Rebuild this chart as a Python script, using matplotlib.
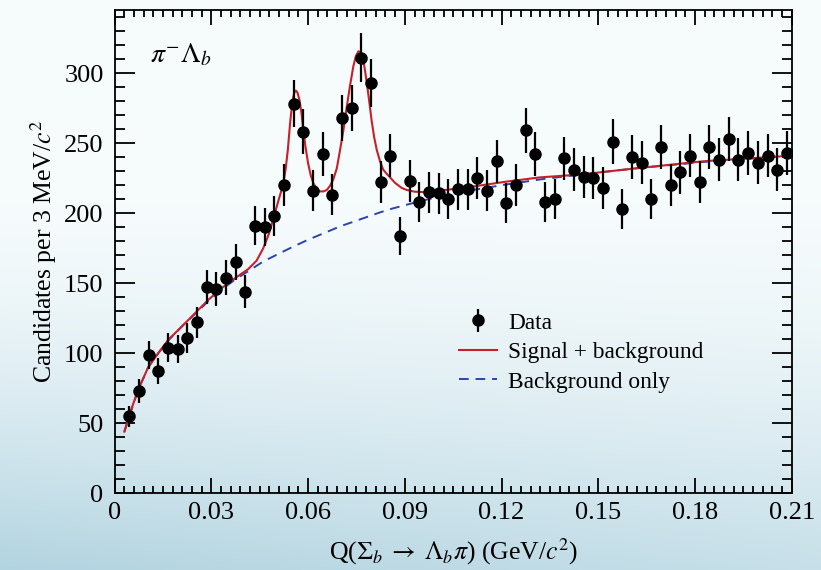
import numpy as np
import matplotlib
matplotlib.use("Agg")
from matplotlib import pyplot as plt

# Sigma_b -> Lambda_b pi candidates, pi^- Lambda_b sample, 3 MeV bins
q_bins = np.arange(0.0045, 0.21, 0.003)
counts = [55, 73, 99, 87, 104, 103, 111, 122, 147, 146,
          154, 165, 144, 191, 190, 198, 220, 278, 258, 216,
          242, 213, 268, 275, 311, 293, 222, 241, 184, 223,
          208, 215, 214, 210, 217, 217, 225, 216, 237, 207,
          220, 259, 242, 208, 210, 239, 231, 226, 225, 218,
          251, 203, 240, 236, 210, 247, 220, 229, 241, 222,
          247, 238, 253, 238, 243, 236, 241, 231, 243]
errors = np.sqrt(counts)

# fitted signal + background curve
fit_q = [0.0030, 0.0047, 0.0073, 0.0104, 0.0135, 0.0166, 0.0208, 0.0249, 0.0290, 0.0332,
         0.0373, 0.0414, 0.0440, 0.0461, 0.0478, 0.0492, 0.0508, 0.0515, 0.0523, 0.0530,
         0.0537, 0.0544, 0.0549, 0.0554, 0.0558, 0.0562, 0.0567, 0.0573, 0.0579, 0.0585,
         0.0592, 0.0600, 0.0608, 0.0616, 0.0626, 0.0637, 0.0648, 0.0658, 0.0668, 0.0678,
         0.0689, 0.0699, 0.0710, 0.0720, 0.0730, 0.0740, 0.0748, 0.0756, 0.0762, 0.0769,
         0.0775, 0.0782, 0.0790, 0.0797, 0.0805, 0.0813, 0.0823, 0.0833, 0.0844, 0.0854,
         0.0870, 0.0890, 0.0906, 0.0930, 0.0957, 0.1009, 0.1112, 0.1216, 0.1319, 0.1443,
         0.1619, 0.1826, 0.2100]
fit_val = [44, 57, 74, 90, 100, 109.5, 119, 128.5, 138, 146.5,
           153.5, 160, 166, 175, 185, 196, 209, 214.5, 221.5, 231,
           245, 264, 275, 283, 286.5, 287.5, 286, 281, 272, 259.5,
           247, 235.5, 227, 221.5, 217.5, 215.5, 215.5, 216.5, 219.5, 224,
           232, 245, 260, 276, 291, 304.5, 312, 315.5, 315, 312,
           304, 293, 279, 266, 254, 245, 237, 231, 228, 225.5,
           221.5, 218, 216.5, 215.3, 215, 216, 219, 222.5, 225.5, 227.5,
           232, 237, 241]

# background-only component
bkg_q = [0.0030, 0.0073, 0.0104, 0.0135, 0.0166, 0.0208, 0.0249, 0.0290, 0.0332, 0.0373,
         0.0414, 0.0461, 0.0544, 0.0600, 0.0668, 0.0699, 0.0823, 0.0854, 0.0947, 0.1040,
         0.1112, 0.1216, 0.1319, 0.1443, 0.1619, 0.1826, 0.2100]
bkg_val = [44, 74, 90, 100, 109, 119, 128, 137, 145.5, 152.5,
           158.5, 165.5, 175, 181, 187.5, 190.5, 200.5, 202.8, 208.5, 213.5,
           216.5, 220.5, 224, 227.5, 232, 236.5, 241]

plt.rcParams['font.family'] = ['Liberation Serif', 'DejaVu Serif']
plt.rcParams['mathtext.fontset'] = 'stix'

fig = plt.figure(figsize=(8.21, 5.70), dpi=100)

# pale blue backdrop behind everything
bg = fig.add_axes([0, 0, 1, 1], zorder=-10)
yy, xx = np.mgrid[0:1:200j, 0:1:300j]
top = np.array([0.965, 0.985, 0.99])
low = np.array([0.70, 0.83, 0.88])
t = np.clip((yy - 0.35) / 0.65, 0, 1) ** 1.5 * (1 - 0.3 * xx)
img = top[None, None, :] * (1 - t[..., None]) + low[None, None, :] * t[..., None]
bg.imshow(img, extent=[0, 1, 0, 1], aspect='auto', origin='upper')
bg.axis('off')

ax = fig.add_axes([0.1397, 0.1346, 0.8246, 0.8479])
ax.patch.set_alpha(0)

ax.plot(bkg_q, bkg_val, color='#2a44b0', lw=1.4, ls=(0, (5, 3.5)), label='Background only', zorder=2)
ax.plot(fit_q, fit_val, color='#c8202a', lw=1.5, label='Signal + background', zorder=3)
ax.errorbar(q_bins, counts, yerr=errors, fmt='o', color='black', ms=8, elinewidth=1.6,
            capsize=0, label='Data', zorder=4)

ax.set_xlim(0, 0.21)
ax.set_ylim(0, 345)
ax.set_xticks(np.arange(0, 0.2101, 0.03))
ax.set_xticklabels(['0', '0.03', '0.06', '0.09', '0.12', '0.15', '0.18', '0.21'])
ax.set_xticks(np.arange(0, 0.2101, 0.003), minor=True)
ax.set_yticks(np.arange(0, 301, 50))
ax.set_yticks(np.arange(0, 341, 10), minor=True)
ax.tick_params(axis='both', which='both', direction='in', top=True, right=True,
               labelsize=19, width=1.3, colors='black')
ax.tick_params(axis='x', which='major', length=11, pad=6)
ax.tick_params(axis='x', which='minor', length=5)
ax.tick_params(axis='y', which='major', length=14.5, pad=8)
ax.tick_params(axis='y', which='minor', length=7)
for s in ax.spines.values():
    s.set_linewidth(1.3)

ax.set_xlabel(r'Q($\Sigma_b \;\rightarrow\; \Lambda_b\pi$) (GeV/$c^2$)', fontsize=18.5, labelpad=9)
ax.set_ylabel(r'Candidates per 3 MeV/$c^2$', fontsize=18.5, labelpad=4)

ax.text(0.052, 0.907, r'$\pi^{-}\Lambda_b$', transform=ax.transAxes, fontsize=20, va='center')

handles, labels = ax.get_legend_handles_labels()
order = [2, 1, 0]
ax.legend([handles[i] for i in order], [labels[i] for i in order],
          loc='upper left', bbox_to_anchor=(0.478, 0.418), frameon=False,
          fontsize=16.8, handlelength=1.6, handletextpad=0.5, labelspacing=0.35)

fig.savefig('out.png', dpi=100)
